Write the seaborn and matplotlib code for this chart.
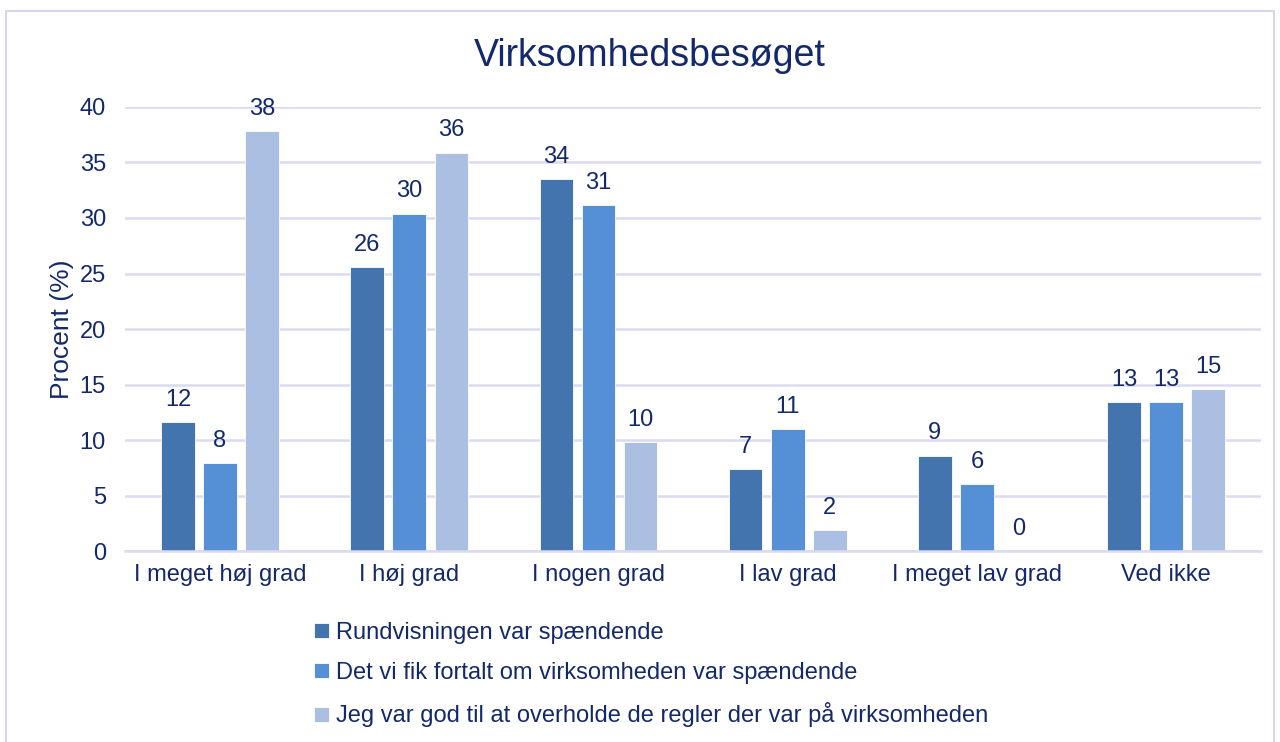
# -*- coding: utf-8 -*-

import pandas as pd
import matplotlib.pyplot as plt
import seaborn as sns
from matplotlib.patches import Rectangle

# Data ==================================================================================

categories = ["I meget høj grad", "I høj grad", "I nogen grad", "I lav grad",
              "I meget lav grad", "Ved ikke"]
series_names = ["Rundvisningen var spændende",
                "Det vi fik fortalt om virksomheden var spændende",
                "Jeg var god til at overholde de regler der var på virksomheden"]
rundvisning = [11.6, 25.6, 33.5, 7.4, 8.6, 13.4]
fortalt = [7.9, 30.4, 31.2, 11.0, 6.0, 13.4]
regler = [37.8, 35.9, 9.8, 1.9, 0.0, 14.6]

colors = ["#4474AE", "#5590D6", "#ABBFE3"]
text_color = "#13296B"
grid_color = "#DCDAF0"

df = pd.DataFrame({"Kategori": categories * 3,
                   "Serie": [series_names[0]] * 6 + [series_names[1]] * 6 + [series_names[2]] * 6,
                   "Procent": rundvisning + fortalt + regler})

# Plot ==================================================================================

sns.set_theme(style="white")
plt.rcParams["font.family"] = ["Liberation Sans", "DejaVu Sans"]

fig = plt.figure(figsize=(12.8, 7.42), dpi=100)
ax = fig.add_axes([0.098, 0.2574, 0.887, 0.5984])

sns.barplot(data=df, x="Kategori", y="Procent", hue="Serie", palette=colors, saturation=1,
            width=0.667, gap=0.2, ax=ax, legend=True, edgecolor="white", linewidth=0.6)

for container in ax.containers:
    ax.bar_label(container, fmt="%.0f", padding=8, fontsize=17, color=text_color)

ax.set_ylim(0, 40)
ax.set_yticks(range(0, 41, 5))
ax.set_xlim(-0.5, 5.5)
ax.yaxis.grid(True, color=grid_color, linewidth=1.8)
ax.set_axisbelow(True)
for side in ["top", "right", "left"]:
    ax.spines[side].set_visible(False)
ax.spines["bottom"].set_color(grid_color)
ax.spines["bottom"].set_linewidth(1.8)
ax.tick_params(axis="both", length=0, labelsize=17, colors=text_color)
ax.tick_params(axis="y", pad=14)
ax.tick_params(axis="x", pad=9)
ax.set_xlabel("")
ax.set_ylabel("Procent (%)", fontsize=19, color=text_color, labelpad=4)
fig.text(0.508, 0.925, "Virksomhedsbesøget", ha="center", va="center",
         fontsize=27, color=text_color)

handles, labels = ax.get_legend_handles_labels()
ax.get_legend().remove()
fig.legend(handles, labels, loc="lower left", bbox_to_anchor=(0.229, -0.009),
           frameon=False, fontsize=17, labelcolor=text_color,
           handlelength=0.6, handleheight=0.6, handletextpad=0.3, labelspacing=0.78)

fig.patches.append(Rectangle((0.005, -0.01), 0.99, 0.995, transform=fig.transFigure,
                             fill=False, edgecolor="#D6D4EE", linewidth=1.5))

plt.savefig("out.png", dpi=100)
